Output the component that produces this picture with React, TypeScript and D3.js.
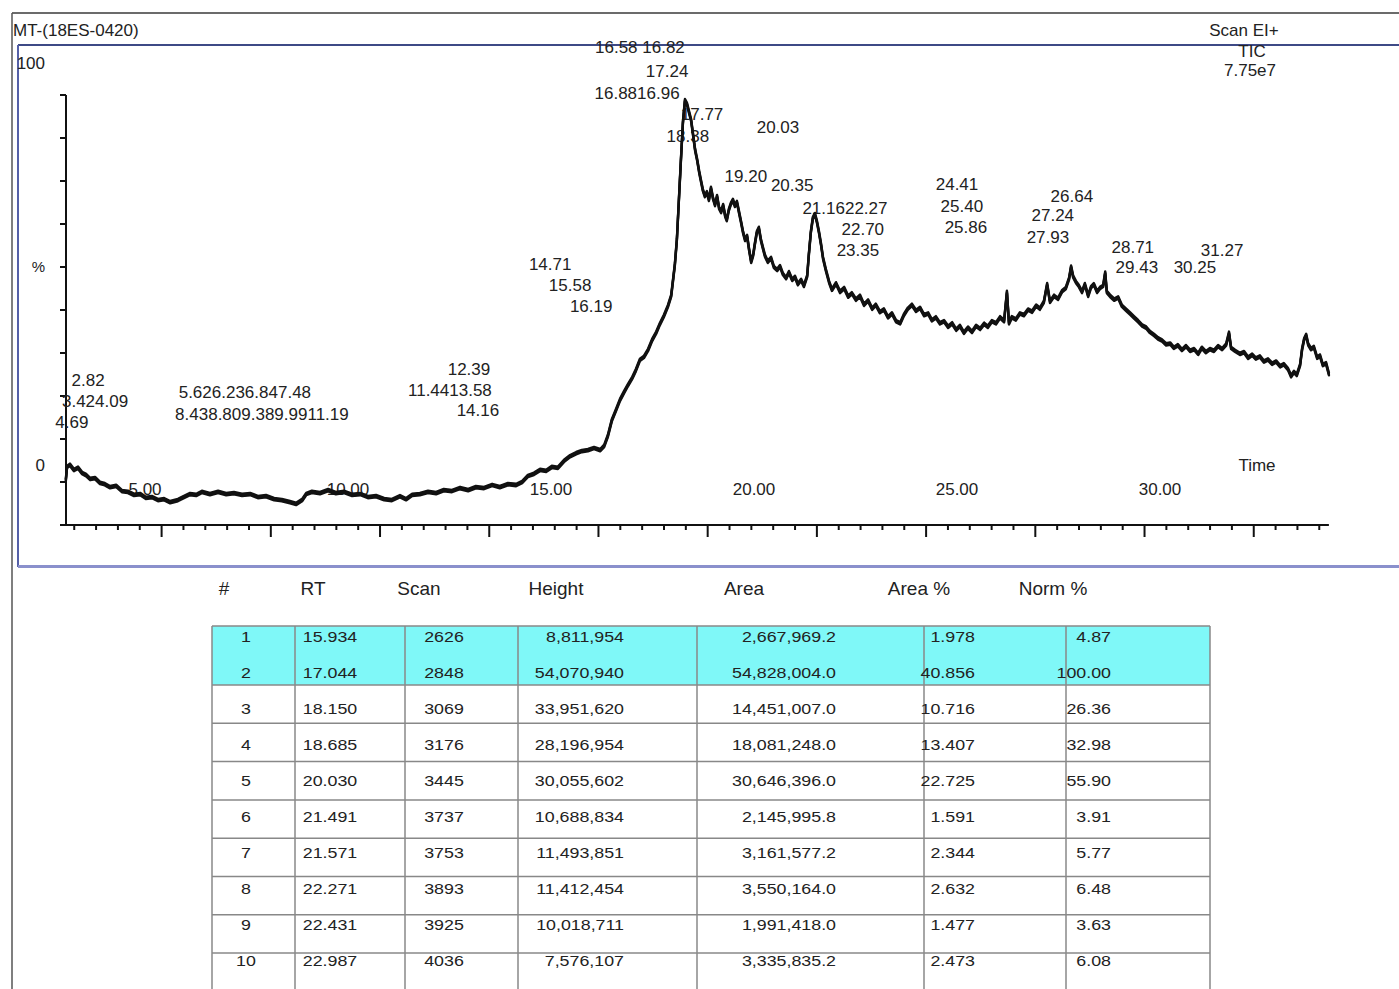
import React from "react";
import * as d3 from "d3";

// ---------- chromatogram trace (time in min, intensity in % of axis) ----------
const trace: [number, number][] = [
  [3.05,10.5],[3.08,13.5],[3.15,14.0],[3.25,12.8],[3.35,13.3],[3.45,12.1],[3.55,11.6],[3.65,10.7],[3.77,10.9],[3.89,9.8],
  [4.01,9.5],[4.14,8.8],[4.29,9.1],[4.43,7.9],[4.58,7.7],[4.73,7.0],[4.88,7.2],[5.02,6.3],[5.17,6.5],[5.32,5.8],
  [5.47,6.0],[5.62,5.3],[5.81,5.8],[5.96,6.5],[6.11,7.2],[6.26,7.0],[6.40,7.7],[6.60,7.2],[6.80,7.7],[7.00,7.2],
  [7.19,7.4],[7.39,7.0],[7.59,7.2],[7.78,6.5],[7.98,6.7],[8.18,6.0],[8.37,5.8],[8.57,5.3],[8.72,4.9],[8.87,5.8],
  [8.97,7.2],[9.11,7.7],[9.31,7.4],[9.51,8.1],[9.70,7.4],[9.90,7.7],[10.10,7.0],[10.30,7.2],[10.49,6.5],[10.69,6.7],
  [10.89,6.0],[11.08,5.8],[11.28,6.7],[11.43,6.0],[11.58,7.0],[11.77,7.2],[11.97,7.7],[12.17,7.4],[12.36,8.1],[12.56,7.9],
  [12.76,8.6],[12.96,8.1],[13.15,8.8],[13.35,8.6],[13.55,9.3],[13.74,8.8],[13.94,9.5],[14.14,9.3],[14.29,10.0],[14.43,11.4],
  [14.58,11.9],[14.73,12.8],[14.88,12.6],[15.02,13.5],[15.17,13.3],[15.32,14.9],[15.47,16.0],[15.62,16.7],[15.76,17.2],[15.91,17.4],
  [16.06,17.9],[16.21,17.4],[16.31,18.4],[16.40,20.7],[16.50,24.4],[16.60,26.7],[16.70,29.1],[16.80,30.9],[16.90,32.6],[17.00,34.2],
  [17.09,36.0],[17.19,38.4],[17.29,39.1],[17.39,40.7],[17.49,43.0],[17.59,44.7],[17.68,46.7],[17.78,48.6],[17.88,50.9],[17.96,53.3],
  [18.00,56.5],[18.05,60.5],[18.10,66.3],[18.15,75.6],[18.20,84.9],[18.25,93.7],[18.30,98.8],[18.35,97.9],[18.40,96.0],[18.45,94.2],
  [18.50,90.7],[18.55,87.2],[18.60,84.9],[18.65,82.1],[18.69,80.2],[18.74,77.9],[18.79,76.5],[18.84,77.4],[18.89,75.6],[18.94,78.4],
  [18.99,76.0],[19.04,74.4],[19.09,76.5],[19.14,73.7],[19.19,72.8],[19.24,74.4],[19.29,71.9],[19.33,70.9],[19.38,73.3],[19.43,74.7],
  [19.48,75.6],[19.53,74.2],[19.58,75.1],[19.63,72.8],[19.68,70.5],[19.73,68.1],[19.78,66.3],[19.83,67.2],[19.88,64.0],[19.93,61.2],
  [19.98,62.8],[20.02,65.3],[20.07,68.1],[20.12,69.1],[20.17,66.3],[20.22,64.4],[20.27,62.6],[20.34,61.2],[20.42,62.1],[20.49,60.0],
  [20.57,59.3],[20.64,60.2],[20.71,58.4],[20.79,57.4],[20.86,58.8],[20.94,57.0],[21.01,57.7],[21.08,56.0],[21.16,57.0],[21.23,55.6],
  [21.31,57.9],[21.35,62.8],[21.40,68.1],[21.45,71.4],[21.50,72.3],[21.55,70.5],[21.60,68.1],[21.65,65.3],[21.70,62.1],[21.77,59.3],
  [21.85,56.5],[21.92,54.7],[22.02,56.2],[22.12,54.2],[22.22,55.1],[22.32,53.1],[22.41,53.9],[22.51,52.4],[22.61,53.3],[22.71,51.2],
  [22.81,52.2],[22.91,50.3],[23.00,51.2],[23.10,49.5],[23.20,50.1],[23.30,48.3],[23.40,49.2],[23.50,47.4],[23.60,46.9],[23.69,48.8],
  [23.79,50.3],[23.89,51.2],[23.99,49.8],[24.09,50.5],[24.19,48.8],[24.29,49.2],[24.38,47.6],[24.48,48.3],[24.58,46.9],[24.68,47.4],
  [24.78,46.1],[24.88,46.9],[24.98,45.4],[25.07,46.3],[25.17,44.7],[25.27,45.9],[25.37,44.9],[25.47,46.3],[25.57,45.6],[25.67,46.8],
  [25.76,46.1],[25.86,47.4],[25.96,46.9],[26.06,48.3],[26.16,47.4],[26.23,54.2],[26.28,46.9],[26.35,48.3],[26.45,47.8],[26.55,49.2],
  [26.65,48.8],[26.75,50.1],[26.85,49.6],[26.95,51.0],[27.04,50.3],[27.14,51.9],[27.22,56.0],[27.29,51.9],[27.39,53.3],[27.49,52.6],
  [27.59,54.4],[27.68,55.1],[27.76,57.3],[27.81,60.1],[27.86,57.8],[27.93,56.5],[28.00,55.6],[28.08,54.2],[28.15,56.0],[28.23,53.3],
  [28.30,55.3],[28.37,56.0],[28.45,54.2],[28.52,55.1],[28.60,55.6],[28.65,58.7],[28.69,54.2],[28.77,53.3],[28.87,52.4],[28.97,52.9],
  [29.06,51.0],[29.16,50.1],[29.26,49.2],[29.36,48.3],[29.46,47.4],[29.56,46.4],[29.66,45.9],[29.75,44.9],[29.85,44.2],[29.95,43.4],
  [30.05,42.9],[30.15,42.0],[30.25,42.2],[30.34,41.2],[30.44,41.8],[30.54,40.7],[30.64,41.6],[30.74,40.5],[30.84,40.9],[30.94,39.8],
  [31.03,41.2],[31.13,40.2],[31.23,40.9],[31.33,40.5],[31.43,41.6],[31.53,40.9],[31.63,42.0],[31.70,44.7],[31.75,41.2],[31.85,40.5],
  [31.97,39.8],[32.07,40.2],[32.17,38.9],[32.27,39.6],[32.36,38.7],[32.46,39.2],[32.56,38.0],[32.66,38.5],[32.76,37.5],[32.86,38.0],
  [32.96,36.9],[33.05,37.4],[33.15,36.3],[33.23,34.6],[33.30,35.6],[33.37,34.9],[33.45,37.2],[33.50,40.9],[33.55,43.2],[33.60,44.2],
  [33.65,42.0],[33.72,40.9],[33.79,41.4],[33.87,38.9],[33.94,39.4],[34.01,37.2],[34.09,37.6],[34.16,35.1],
];

// ---------- axis labels ----------
const xTickValues = [5, 10, 15, 20, 25, 30];
const xTickLabels = ["5.00", "10.00", "15.00", "20.00", "25.00", "30.00"];
const yTickValues = [0, 10, 20, 30, 40, 50, 60, 70, 80, 90, 100];

// ---------- peak annotations (text, anchor time, anchor %) ----------
const peakLabelText = [
  "16.58 16.82", "17.24", "16.8816.96", "17.77", "18.38", "20.03", "19.20", "20.35",
  "21.1622.27", "22.70", "23.35", "24.41", "25.40", "25.86", "26.64", "27.24", "27.93",
  "28.71", "29.43", "30.25", "31.27", "14.71", "15.58", "16.19", "12.39", "11.4413.58",
  "14.16", "2.82", "3.424.09", "4.69", "5.626.236.847.48", "8.438.809.389.9911.19",
];
const peakLabelTime = [
  17.19, 17.86, 17.12, 18.72, 18.37, 20.59, 19.80, 20.94,
  22.24, 22.68, 22.56, 25.00, 25.12, 25.22, 27.83, 27.36, 27.24,
  29.33, 29.43, 30.86, 31.53, 14.98, 15.47, 15.99, 12.98, 12.51,
  13.20, 3.60, 3.77, 3.20, 7.46, 7.88,
];
const peakLabelPct = [
  109.8, 104.2, 99.1, 94.2, 89.1, 91.2, 79.8, 77.7,
  72.3, 67.4, 62.6, 77.9, 72.8, 67.9, 75.1, 70.7, 65.6,
  63.3, 58.6, 58.6, 62.6, 59.3, 54.4, 49.5, 34.9, 30.0,
  25.3, 32.3, 27.4, 22.6, 29.5, 24.4,
];

// ---------- peak table ----------
const tableHeaders = ["#", "RT", "Scan", "Height", "Area", "Area %", "Norm %"];
const peakNo = [1, 2, 3, 4, 5, 6, 7, 8, 9, 10];
const peakRT = [15.934, 17.044, 18.15, 18.685, 20.03, 21.491, 21.571, 22.271, 22.431, 22.987];
const peakScan = [2626, 2848, 3069, 3176, 3445, 3737, 3753, 3893, 3925, 4036];
const peakHeight = [8811954, 54070940, 33951620, 28196954, 30055602, 10688834, 11493851, 11412454, 10018711, 7576107];
const peakArea = [2667969.2, 54828004.0, 14451007.0, 18081248.0, 30646396.0, 2145995.8, 3161577.2, 3550164.0, 1991418.0, 3335835.2];
const peakAreaPct = [1.978, 40.856, 10.716, 13.407, 22.725, 1.591, 2.344, 2.632, 1.477, 2.473];
const peakNormPct = [4.87, 100.0, 26.36, 32.98, 55.9, 3.91, 5.77, 6.48, 3.63, 6.08];
const highlightedRows = [1, 2];

const FONT = "'Liberation Sans', Arial, sans-serif";

export default function App() {
  const W = 1399;
  const H = 989;

  const x = d3.scaleLinear().domain([5, 30]).range([145, 1160]);
  const y = d3.scaleLinear().domain([0, 100]).range([525, 95]);
  const line = d3
    .line<[number, number]>()
    .x((d) => x(d[0]))
    .y((d) => y(d[1]));

  const xStart = x(trace[0][0]);
  const xEnd = x(trace[trace.length - 1][0]);
  const yBase = y(0);

  // instrument axis tick marks (minor every 0.538 min, major every 5th)
  const axisTicks = d3.range(0, 58).map((i) => ({ t: 3.257 + i * 0.538, major: i % 5 === 4 }));

  // table layout
  const tLeft = 212, tRight = 1210, tTop = 626;
  const colLines = [212, 295, 405, 518, 697, 924, 1066, 1210];
  const rowLines = d3.range(0, 8).map((k) => 685 + k * 38.3);
  const rowBase = (i: number) => 641.5 + i * 36.1;
  const fmtRT = d3.format(".3f");
  const fmtInt = d3.format(",");
  const fmtArea = d3.format(",.1f");
  const fmtPct3 = d3.format(".3f");
  const fmtPct2 = d3.format(".2f");

  const cols = [
    { hx: 224, vx: 246, anchor: "middle", vals: peakNo.map(String) },
    { hx: 313, vx: 330, anchor: "middle", vals: peakRT.map(fmtRT) },
    { hx: 419, vx: 444, anchor: "middle", vals: peakScan.map(String) },
    { hx: 556, vx: 624, anchor: "end", vals: peakHeight.map(fmtInt) },
    { hx: 744, vx: 836, anchor: "end", vals: peakArea.map(fmtArea) },
    { hx: 919, vx: 975, anchor: "end", vals: peakAreaPct.map(fmtPct3) },
    { hx: 1053, vx: 1111, anchor: "end", vals: peakNormPct.map(fmtPct2) },
  ];

  const hlTop = tTop;
  const hlBottom = rowLines[0];
  const tracePath = line(trace) || "";

  return (
    <svg
      width={W}
      height={H}
      viewBox={`0 0 ${W} ${H}`}
      style={{ position: "absolute", left: 0, top: 0, background: "#fff" }}
      fontFamily={FONT}
    >
      <rect x={0} y={0} width={W} height={H} fill="#fff" />

      {/* outer frame */}
      <line x1={12} y1={13} x2={W} y2={13} stroke="#3a3a3a" strokeWidth={1.5} />
      <line x1={12} y1={13} x2={12} y2={H} stroke="#555" strokeWidth={1.5} />

      {/* chart panel */}
      <line x1={18} y1={45} x2={W} y2={45} stroke="#3e4a86" strokeWidth={2} />
      <line x1={18} y1={45} x2={18} y2={567} stroke="#5560a8" strokeWidth={2} />
      <line x1={18} y1={566.5} x2={W} y2={566.5} stroke="#8a90cc" strokeWidth={3} />

      {/* header texts */}
      <text x={13} y={36} fontSize={17} fill="#222">MT-(18ES-0420)</text>
      <text x={1244} y={36} fontSize={17} fill="#222" textAnchor="middle">Scan EI+</text>
      <text x={1252} y={57} fontSize={17} fill="#222" textAnchor="middle">TIC</text>
      <text x={1250} y={76} fontSize={17} fill="#222" textAnchor="middle">7.75e7</text>

      {/* y axis */}
      <line x1={66} y1={y(100)} x2={66} y2={yBase} stroke="#111" strokeWidth={2} />
      {yTickValues.map((v) => (
        <line key={v} x1={60} x2={66} y1={y(v)} y2={y(v)} stroke="#111" strokeWidth={2} />
      ))}
      <text x={45} y={69} fontSize={17} textAnchor="end" fill="#222">100</text>
      <text x={45} y={272} fontSize={15} textAnchor="end" fill="#222">%</text>
      <text x={45} y={471} fontSize={17} textAnchor="end" fill="#222">0</text>

      {/* x axis */}
      <line x1={xStart} y1={yBase} x2={xEnd} y2={yBase} stroke="#111" strokeWidth={2} />
      {axisTicks.map((tk, i) => (
        <line
          key={i}
          x1={x(tk.t)}
          x2={x(tk.t)}
          y1={yBase}
          y2={yBase + (tk.major ? 12 : 5)}
          stroke="#111"
          strokeWidth={2}
        />
      ))}
      {xTickValues.map((v, i) => (
        <text key={v} x={x(v)} y={495} fontSize={17} textAnchor="middle" fill="#222">
          {xTickLabels[i]}
        </text>
      ))}
      <text x={1257} y={471} fontSize={17} textAnchor="middle" fill="#222">Time</text>

      {/* peak labels */}
      {peakLabelText.map((s, i) => (
        <text
          key={i}
          x={x(peakLabelTime[i])}
          y={y(peakLabelPct[i])}
          fontSize={17}
          textAnchor="middle"
          fill="#222"
        >
          {s}
        </text>
      ))}

      {/* trace: drawn as a slightly thickened band to mimic the noisy TIC */}
      <g fill="none" stroke="#111" strokeLinejoin="round" strokeLinecap="round">
        <path d={tracePath} strokeWidth={2.4} transform="translate(0,-1.2)" />
        <path d={tracePath} strokeWidth={2.4} transform="translate(0,1.2)" />
        <path d={tracePath} strokeWidth={2.4} />
      </g>

      {/* table header */}
      {cols.map((c, i) => (
        <text key={i} x={c.hx} y={595} fontSize={19} textAnchor="middle" fill="#222">
          {tableHeaders[i]}
        </text>
      ))}

      {/* table highlight */}
      <rect
        x={tLeft}
        y={hlTop}
        width={tRight - tLeft}
        height={hlBottom - hlTop}
        fill="#7ff8f8"
        opacity={highlightedRows.length ? 1 : 0}
      />

      {/* table grid */}
      <line x1={tLeft} x2={tRight} y1={tTop} y2={tTop} stroke="#888" strokeWidth={1.5} />
      {rowLines.map((ly, k) => (
        <line key={k} x1={tLeft} x2={tRight} y1={ly} y2={ly} stroke="#888" strokeWidth={1.5} />
      ))}
      {colLines.map((lx, k) => (
        <line key={k} x1={lx} x2={lx} y1={tTop} y2={H} stroke="#888" strokeWidth={1.5} />
      ))}

      {/* table cells */}
      {cols.map((c, ci) =>
        c.vals.map((v, ri) => (
          <text
            key={`${ci}-${ri}`}
            transform={`translate(${c.vx},${rowBase(ri)}) scale(1.15,1)`}
            fontSize={15.5}
            textAnchor={c.anchor as any}
            fill="#222"
          >
            {v}
          </text>
        ))
      )}
    </svg>
  );
}
